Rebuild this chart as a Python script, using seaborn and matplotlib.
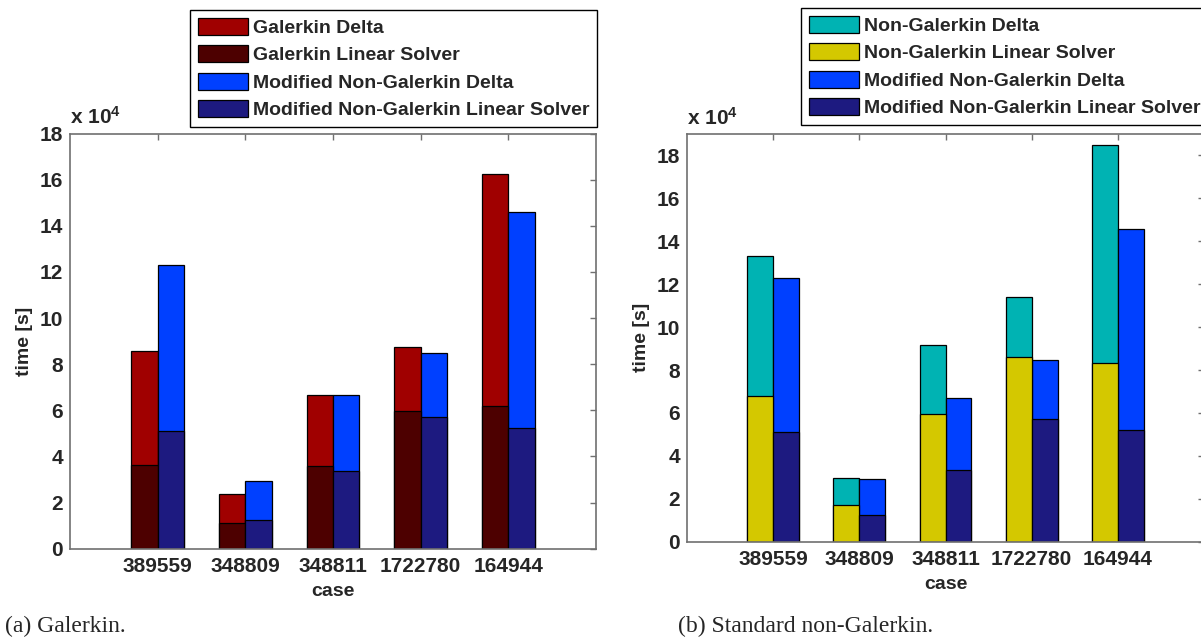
import numpy as np
import pandas as pd
import matplotlib
matplotlib.use("Agg")
import matplotlib.pyplot as plt
from matplotlib.patches import Patch
import seaborn as sns

# Test cases (matrix ids) on the x axis
cases = ["389559", "348809", "348811", "1722780", "164944"]

# Run times in seconds, split into linear-solver time and the extra (delta) time
galerkin_linear = [36500, 11000, 35900, 59600, 61800]
galerkin_delta = [49000, 12700, 30900, 27900, 100800]
nongalerkin_linear = [67900, 17300, 59400, 85900, 83300]
nongalerkin_delta = [65200, 12500, 32200, 28000, 101700]
modified_linear = [51200, 12600, 33600, 57300, 52200]
modified_delta = [71900, 16600, 33200, 27600, 93600]

SCALE = 1e4

sns.set_style("white")
plt.rcParams["font.family"] = ["Liberation Sans", "DejaVu Sans"]
plt.rcParams["font.weight"] = "bold"
plt.rcParams["axes.labelweight"] = "bold"
plt.rcParams["mathtext.fontset"] = "custom"
plt.rcParams["mathtext.rm"] = "Liberation Sans:bold"
plt.rcParams["mathtext.bf"] = "Liberation Sans:bold"
plt.rcParams["mathtext.default"] = "bf"

W, H = 1201, 639
fig = plt.figure(figsize=(W / 100, H / 100), dpi=100)

SPINE = "#707070"
FS = 15
LFS = 14


def panel(rect, base, base_lin, base_delta, c_delta, c_lin, ymax, labels, legend_anchor, legend_loc):
    ax = fig.add_axes(rect)
    df = pd.DataFrame({
        "case": cases * 2,
        "method": [base] * len(cases) + ["Modified"] * len(cases),
        "linear": np.array(base_lin + modified_linear) / SCALE,
        "total": (np.array(base_lin + modified_linear) + np.array(base_delta + modified_delta)) / SCALE,
    })
    common = dict(data=df, x="case", hue="method", hue_order=[base, "Modified"], order=cases,
                  width=0.6, saturation=1, errorbar=None, edgecolor="black", linewidth=0.9,
                  legend=False, ax=ax)
    sns.barplot(y="total", palette=[c_delta, "#0040FF"], **common)
    sns.barplot(y="linear", palette=[c_lin, "#1D1A80"], **common)

    ax.set_xlim(-1, 5)
    ax.set_ylim(0, ymax)
    ax.set_yticks(np.arange(0, 19, 2))
    ax.set_xlabel("case", fontsize=LFS, labelpad=5)
    ax.set_ylabel("time [s]", fontsize=LFS, labelpad=5)
    ax.tick_params(axis="both", direction="in", top=True, right=True, length=4,
                   width=1, color=SPINE, labelsize=FS)
    ax.tick_params(axis="x", pad=6)
    ax.tick_params(axis="y", pad=5)
    for s in ax.spines.values():
        s.set_color(SPINE)
        s.set_linewidth(1.2)
        s.set_visible(True)
    ax.annotate("x 10$^4$", xy=(0, 1), xycoords="axes fraction", xytext=(0, 4),
                textcoords="offset points", ha="left", va="bottom", fontsize=FS)

    colors = [c_delta, c_lin, "#0040FF", "#1D1A80"]
    handles = [Patch(facecolor=c, edgecolor="black", linewidth=0.9) for c in colors]
    fig.legend(handles, labels, loc=legend_loc, bbox_to_anchor=legend_anchor,
               bbox_transform=fig.transFigure, frameon=True, fancybox=False,
               edgecolor="black", framealpha=1, fontsize=LFS, handlelength=2.57,
               handleheight=0.98, handletextpad=0.26, labelspacing=0.42,
               borderpad=0.4, borderaxespad=0)
    return ax


panel([70 / W, 1 - 548.7 / H, 526 / W, 415.2 / H], "Galerkin",
      galerkin_linear, galerkin_delta, "#A00000", "#4D0000", 18,
      ["Galerkin Delta", "Galerkin Linear Solver",
       "Modified Non-Galerkin Delta", "Modified Non-Galerkin Linear Solver"],
      (597 / W, 1 - 10 / H), "upper right")

panel([687 / W, 1 - 541.7 / H, 517 / W, 407.7 / H], "Non-Galerkin",
      nongalerkin_linear, nongalerkin_delta, "#00B3B3", "#D4C800", 19,
      ["Non-Galerkin Delta", "Non-Galerkin Linear Solver",
       "Modified Non-Galerkin Delta", "Modified Non-Galerkin Linear Solver"],
      (801 / W, 1 - 8 / H), "upper left")

fig.text(5 / W, 1 - 626 / H, "(a) Galerkin.", family="Liberation Serif",
         fontweight="normal", fontsize=17, va="center", ha="left")
fig.text(678 / W, 1 - 626 / H, "(b) Standard non-Galerkin.", family="Liberation Serif",
         fontweight="normal", fontsize=17, va="center", ha="left")

fig.savefig("out.png", dpi=100)
